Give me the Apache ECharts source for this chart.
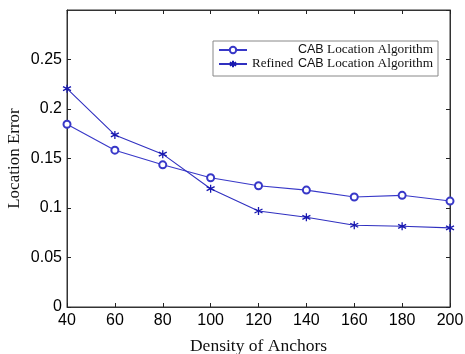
<!DOCTYPE html>
<html><head><meta charset="utf-8">
<script src="https://cdn.jsdelivr.net/npm/echarts@6/dist/echarts.min.js"></script>
<style>html,body{margin:0;padding:0;background:#fff}#c{width:465px;height:354px}</style>
</head><body><div id="c"></div>
<script>
var categories = [40, 60, 80, 100, 120, 140, 160, 180, 200];
var cabValues = [0.1846, 0.1584, 0.1436, 0.1305, 0.1225, 0.1181, 0.1111, 0.1128, 0.1070];
var refinedValues = [0.2205, 0.1738, 0.1544, 0.1195, 0.0970, 0.0906, 0.0826, 0.0815, 0.0799];
var yTicks = [0, 0.05, 0.1, 0.15, 0.2, 0.25];
var seriesNames = ['CAB Location Algorithm', 'Refined CAB Location Algorithm'];

var star = 'path://M0,-1L0,1M-0.87,-0.5L0.87,0.5M-0.87,0.5L0.87,-0.5M0,0';
var chart = echarts.init(document.getElementById('c'));
function axisCommon() {
  return {
    axisLine: {show: true, onZero: false, lineStyle: {color: '#333', width: 1}},
    axisTick: {show: true, inside: true, length: 4, lineStyle: {color: '#222'}},
    splitLine: {show: false}
  };
}
chart.setOption({
  animation: false,
  grid: {left: 67, right: 15, top: 10, bottom: 47, outerBoundsMode: 'none', containLabel: false,
    show: true, borderColor: '#333', borderWidth: 1, backgroundColor: 'transparent'},
  legend: {
    orient: 'vertical', left: 213, top: 41,
    borderColor: '#888', borderWidth: 1, padding: [2, 5, 5, 5],
    itemGap: 0, itemWidth: 28, itemHeight: 8,
    data: seriesNames,
    formatter: function (n) {
      var idx = n.indexOf('CAB');
      var pre = n.slice(0, idx), post = n.slice(idx + 3);
      return (pre ? '{p|' + pre + '}' : '{p|}') + '{s|CAB}{t|' + post + '}';
    },
    textStyle: {
      color: '#111', fontFamily: 'Liberation Serif', fontSize: 13, lineHeight: 14,
      rich: {
        p: {fontFamily: 'Liberation Serif', fontSize: 13, color: '#111', lineHeight: 14, width: 46},
        t: {fontFamily: 'Liberation Serif', fontSize: 13.3, color: '#111', lineHeight: 14},
        s: {fontFamily: 'Liberation Sans', fontSize: 12.5, color: '#111', lineHeight: 14}
      }
    }
  },
  xAxis: [Object.assign({
    type: 'value', min: 40, max: 200, interval: 20,
    name: 'Density of Anchors', nameLocation: 'middle', nameGap: 30, nameMoveOverlap: false,
    nameTextStyle: {fontFamily: 'Liberation Serif', fontSize: 17.5, color: '#111'},
    axisLabel: {fontFamily: 'Liberation Sans', fontSize: 16, color: '#000', margin: 6,
      formatter: function (v) { return categories.indexOf(v) >= 0 ? String(v) : ''; }}
  }, axisCommon()), Object.assign({
    type: 'value', min: 40, max: 200, interval: 20, position: 'top',
    axisLabel: {show: false}
  }, axisCommon())],
  yAxis: [Object.assign({
    type: 'value', min: 0, max: 0.3, interval: 0.05,
    name: 'Location Error', nameLocation: 'middle', nameGap: 44, nameMoveOverlap: false,
    nameTextStyle: {fontFamily: 'Liberation Serif', fontSize: 17, color: '#111'},
    axisLabel: {fontFamily: 'Liberation Sans', fontSize: 16, color: '#000', margin: 5, showMaxLabel: false,
      formatter: function (v) {
        for (var i = 0; i < yTicks.length; i++) if (Math.abs(yTicks[i] - v) < 1e-9) return String(yTicks[i]);
        return '';
      }}
  }, axisCommon()), Object.assign({
    type: 'value', min: 0, max: 0.3, interval: 0.05, position: 'right',
    axisLabel: {show: false}
  }, axisCommon())],
  series: [{
    name: seriesNames[0], type: 'line',
    data: categories.map(function (c, i) { return [c, cabValues[i]]; }),
    symbol: 'emptyCircle', symbolSize: 7, showAllSymbol: true,
    lineStyle: {color: '#3838c8', width: 1.1},
    itemStyle: {color: '#3838c8', borderColor: '#3838c8', borderWidth: 1}
  }, {
    name: seriesNames[1], type: 'line',
    data: categories.map(function (c, i) { return [c, refinedValues[i]]; }),
    symbol: star, symbolSize: 8, showAllSymbol: true,
    lineStyle: {color: '#3030c0', width: 1.1},
    itemStyle: {color: '#1818b0', borderColor: '#1818b0', borderWidth: 1.3}
  }]
});
</script></body></html>
